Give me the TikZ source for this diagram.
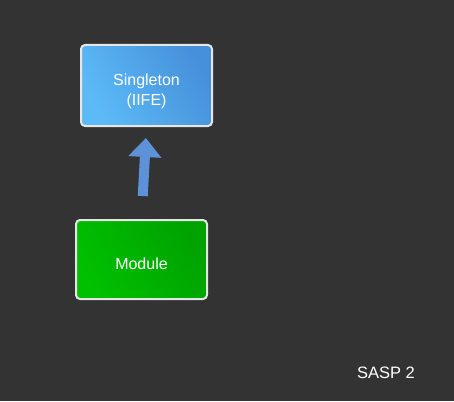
\documentclass[tikz,border=0pt]{standalone}
\usepackage{fontspec}
\setmainfont{Liberation Sans}
\usetikzlibrary{calc,positioning,arrows.meta}
\definecolor{SlideBack}{HTML}{333333}
\definecolor{SkyLight}{HTML}{5CBBF7}
\definecolor{SkyDark}{HTML}{4690DA}
\definecolor{LeafLight}{HTML}{00C000}
\definecolor{LeafDark}{HTML}{00A200}
\definecolor{FrameGray}{HTML}{E6E6E6}
\definecolor{ArrowBlue}{HTML}{5E92D8}

\begin{document}
\begin{tikzpicture}[x=1pt,y=-1pt,
    patternbox/.style={
      rounded corners=4pt,
      draw=FrameGray,
      line width=2pt,
      minimum width=131pt,
      inner sep=0pt,
      align=center,
      text=white,
      font=\fontsize{16}{20}\selectfont,
      shading=axis
    }]
    \fill[SlideBack] (0,0) rectangle (454,401);
    \useasboundingbox (0,0) rectangle (454,401);
    \node[
      patternbox,
      minimum height=81pt,
      text height=43pt,
      left color=SkyLight,
      right color=SkyDark,
      shading angle=120
    ] (singleton) at (146.5,85.5) {Singleton\\(IIFE)};
    \node[
      patternbox,
      minimum height=79pt,
      text height=20pt,
      left color=LeafLight,
      right color=LeafDark,
      shading angle=120
    ] (module) at (141.5,259.5) {Module};
    \draw[
      ArrowBlue,
      line width=10pt,
      shorten <=23pt,
      shorten >=11pt,
      -{Triangle[width=32pt,length=19pt]}
    ] (module.north) -- (singleton.south);
    \node[text=white, font=\fontsize{16.5}{20}\selectfont] (slidenum) at (386,373) {SASP 2};
  \end{tikzpicture}
\end{document}
